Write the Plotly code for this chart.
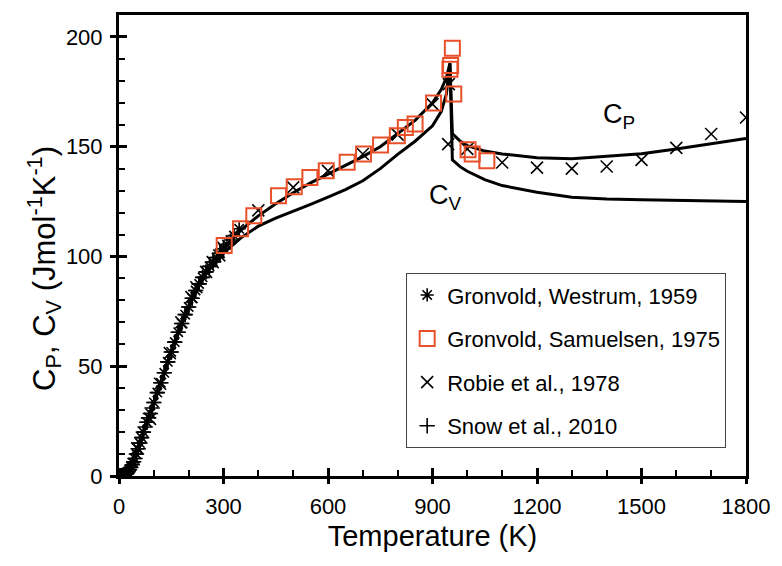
import plotly.graph_objects as go

# ---- model curves (heat capacity of hematite, J mol-1 K-1) ----
model_T = [0, 10, 20, 30, 40, 50, 60, 70, 80, 90, 100, 110, 120, 130, 140, 150, 160, 170,
           180, 190, 200, 210, 220, 230, 240, 250, 260, 270, 280, 290, 300, 350, 400, 450,
           500, 550, 600, 650, 700, 750, 800, 850, 900, 925, 940, 950, 957, 980, 1000,
           1050, 1100, 1200, 1300, 1400, 1500, 1600, 1700, 1800]
model_Cp = [0, 0.2, 1.0, 2.9, 6.0, 10.5, 15.0, 20.0, 24.5, 28.5, 33.5, 38.0, 42.5, 47.0,
            52.0, 56.5, 61.0, 65.5, 69.5, 73.5, 77.0, 81.0, 84.5, 87.5, 90.5, 93.0, 95.5,
            97.5, 99.5, 101.5, 103.5, 112.0, 118.5, 124.0, 129.0, 133.5, 137.5, 141.5,
            145.5, 150.0, 156.0, 162.0, 170.0, 176.0, 181.5, 188.0, 156.0, 152.5, 150.5,
            148.0, 146.7, 145.0, 144.5, 145.5, 146.8, 149.0, 151.3, 153.7]
model_Cv = [0, 0.2, 1.0, 2.9, 6.0, 10.5, 15.0, 20.0, 24.5, 28.5, 33.5, 38.0, 42.5, 47.0,
            52.0, 56.5, 61.0, 65.5, 69.5, 73.5, 77.0, 80.8, 84.2, 87.0, 89.8, 92.0, 94.3,
            96.2, 98.0, 99.8, 101.5, 108.5, 113.8, 117.5, 120.5, 123.7, 127.0, 130.5,
            134.5, 140.0, 146.5, 152.5, 159.5, 166.0, 174.0, 188.0, 144.0, 140.8, 138.8,
            135.0, 132.3, 129.3, 127.0, 126.2, 125.8, 125.5, 125.2, 125.0]

# ---- measured data sets ----
gw1959_T = [5, 8, 12, 16, 20, 25, 30, 35, 40, 45, 50, 55, 60, 65, 70, 80, 90, 100, 110,
            120, 130, 140, 150, 160, 170, 180, 190, 200, 210, 220, 230, 240, 250, 260,
            270, 280, 290, 300, 310, 320, 330, 345]
gw1959_C = [0.05, 0.12, 0.4, 0.65, 1.1, 1.7, 2.9, 4.4, 6.0, 8.0, 10.0, 12.4, 15.0, 17.5,
            20.0, 24.5, 28.5, 33.5, 38.0, 42.5, 47.0, 52.0, 56.5, 61.0, 65.5, 69.5, 73.5,
            77.0, 81.0, 84.5, 87.5, 90.5, 93.0, 95.5, 97.5, 99.5, 101.5, 103.5, 105.5,
            107.5, 109.5, 112.6]

gs1975_T = [302, 349, 387, 458, 503, 548, 595, 655, 702, 751, 799, 822, 850, 903, 950,
            952, 957, 961, 1002, 1014, 1056]
gs1975_C = [105.0, 112.6, 118.5, 127.7, 131.8, 136.0, 139.0, 142.9, 146.7, 150.8, 155.0,
            158.8, 160.3, 169.9, 185.3, 187.0, 194.9, 174.0, 148.6, 146.7, 143.6]

robie_T = [52, 89, 118, 146, 179, 208, 222, 250, 269, 288, 300, 400, 500, 600, 700, 800,
           900, 947, 945, 1000, 1100, 1200, 1300, 1400, 1500, 1600, 1700, 1800]
robie_C = [12.6, 26.0, 42.0, 56.0, 70.0, 81.5, 86.0, 93.0, 97.4, 100.5, 103.9, 121.0,
           131.5, 139.0, 146.7, 155.5, 169.4, 178.5, 151.2, 149.0, 142.8, 140.5, 140.0,
           141.0, 144.0, 149.5, 155.8, 163.3]

snow_T = [2, 3, 4, 5, 6, 8, 10, 12, 14, 16, 18, 20, 23, 26, 30, 34, 38, 42, 46, 50, 55,
          60, 65, 70, 75, 80, 85, 90, 95, 100, 110, 120, 130, 140, 150, 160, 170, 180,
          190, 200, 210, 220, 230, 240, 250, 260, 270, 280, 290, 300]
snow_C = [0.01, 0.02, 0.04, 0.06, 0.1, 0.15, 0.25, 0.35, 0.5, 0.65, 0.85, 1.1, 1.5, 2.0,
          2.9, 3.9, 5.1, 6.5, 8.0, 10.0, 12.4, 15.0, 17.5, 20.0, 22.3, 24.5, 26.5, 28.5,
          31.0, 33.5, 38.0, 42.5, 47.0, 52.0, 56.5, 61.0, 65.5, 69.5, 73.5, 77.0, 81.0,
          84.5, 87.5, 90.5, 93.0, 95.5, 97.5, 99.5, 101.5, 103.5]

X_MAX, X_STEP, X_MINOR = 1800, 300, 100
Y_MAX, Y_STEP, Y_MINOR = 210, 50, 10

FONT = "Liberation Sans, Arial, sans-serif"
RED = "#E8502A"

fig = go.Figure()

fig.add_trace(go.Scatter(x=model_T, y=model_Cv, mode="lines", showlegend=False,
                         line=dict(color="black", width=3), hoverinfo="skip"))
fig.add_trace(go.Scatter(x=model_T, y=model_Cp, mode="lines", showlegend=False,
                         line=dict(color="black", width=3), hoverinfo="skip"))

fig.add_trace(go.Scatter(x=snow_T, y=snow_C, mode="markers", name="Snow et al., 2010",
                         legendrank=4, legendgroup="d",
                         marker=dict(symbol="cross-thin-open", size=11, color="black",
                                     line=dict(color="black", width=1.6))))
fig.add_trace(go.Scatter(x=robie_T, y=robie_C, mode="markers", name="Robie et al., 1978",
                         legendrank=3, legendgroup="c",
                         marker=dict(symbol="x-thin-open", size=12, color="black",
                                     line=dict(color="black", width=1.6))))
fig.add_trace(go.Scatter(x=gw1959_T, y=gw1959_C, mode="markers",
                         name="Gronvold, Westrum, 1959", legendrank=1, legendgroup="a",
                         marker=dict(symbol="asterisk-open", size=11, color="black",
                                     line=dict(color="black", width=1.6))))
fig.add_trace(go.Scatter(x=gs1975_T, y=gs1975_C, mode="markers",
                         name="Gronvold, Samuelsen, 1975", legendrank=2, legendgroup="b",
                         marker=dict(symbol="square-open", size=15, color=RED,
                                     line=dict(color=RED, width=2))))

# second pair of axes over the same area, carrying the outward half of the major ticks
fig.add_trace(go.Scatter(x=[0, X_MAX], y=[0, Y_MAX], xaxis="x2", yaxis="y2",
                         mode="markers", marker=dict(opacity=0, size=1),
                         showlegend=False, hoverinfo="skip"))

fig.add_annotation(x=1434, y=164, text="C<sub>P</sub>", showarrow=False,
                   font=dict(family=FONT, size=27, color="black"))
fig.add_annotation(x=938, y=127, text="C<sub>V</sub>", showarrow=False,
                   font=dict(family=FONT, size=27, color="black"))

# y-axis title, set slightly below the middle of the axis
fig.add_annotation(xref="paper", yref="paper", x=-0.119, y=0.45,
                   text="C<sub>P</sub>, C<sub>V</sub> (Jmol<sup>-1</sup>K<sup>-1</sup>)",
                   textangle=-90, showarrow=False, xanchor="center", yanchor="middle",
                   font=dict(family=FONT, size=31, color="black"))

axis_common = dict(showgrid=False, zeroline=False)

fig.update_layout(
    width=782, height=566,
    margin=dict(l=118.5, r=29, t=15, b=90),
    paper_bgcolor="white", plot_bgcolor="rgba(0,0,0,0)",
    font=dict(family=FONT, color="black"),
    xaxis=dict(range=[0, X_MAX], tick0=0, dtick=X_STEP, ticks="inside", ticklen=8,
               tickwidth=3, tickcolor="black", showline=True, linewidth=3,
               linecolor="black", mirror=True, tickfont=dict(size=22),
               ticklabelstandoff=9,
               minor=dict(tick0=0, dtick=X_MINOR, ticks="inside", ticklen=6,
                          tickwidth=2, tickcolor="black"),
               title=dict(text="Temperature (K)", font=dict(size=29), standoff=8),
               **axis_common),
    yaxis=dict(range=[0, Y_MAX], tick0=0, dtick=Y_STEP, ticks="inside", ticklen=8,
               tickwidth=3, tickcolor="black", showline=True, linewidth=3,
               linecolor="black", mirror=True, tickfont=dict(size=22),
               ticklabelstandoff=9,
               minor=dict(tick0=0, dtick=Y_MINOR, ticks="inside", ticklen=6,
                          tickwidth=2, tickcolor="black"),
               **axis_common),
    xaxis2=dict(range=[0, X_MAX], overlaying="x", anchor="y2", side="bottom",
                tick0=0, dtick=X_STEP, ticks="outside", ticklen=7, tickwidth=3,
                tickcolor="black", showticklabels=False, showline=False,
                **axis_common),
    yaxis2=dict(range=[0, Y_MAX], overlaying="y", anchor="x2", side="left",
                tick0=0, dtick=Y_STEP, ticks="outside", ticklen=8, tickwidth=3,
                tickcolor="black", showticklabels=False, showline=False,
                **axis_common),
    legend=dict(x=0.458, y=0.44, xanchor="left", yanchor="top",
                bgcolor="white", bordercolor="#444", borderwidth=1,
                font=dict(size=22), traceorder="grouped", tracegroupgap=12,
                itemwidth=30),
    showlegend=True,
)

fig.write_html("out.html")
